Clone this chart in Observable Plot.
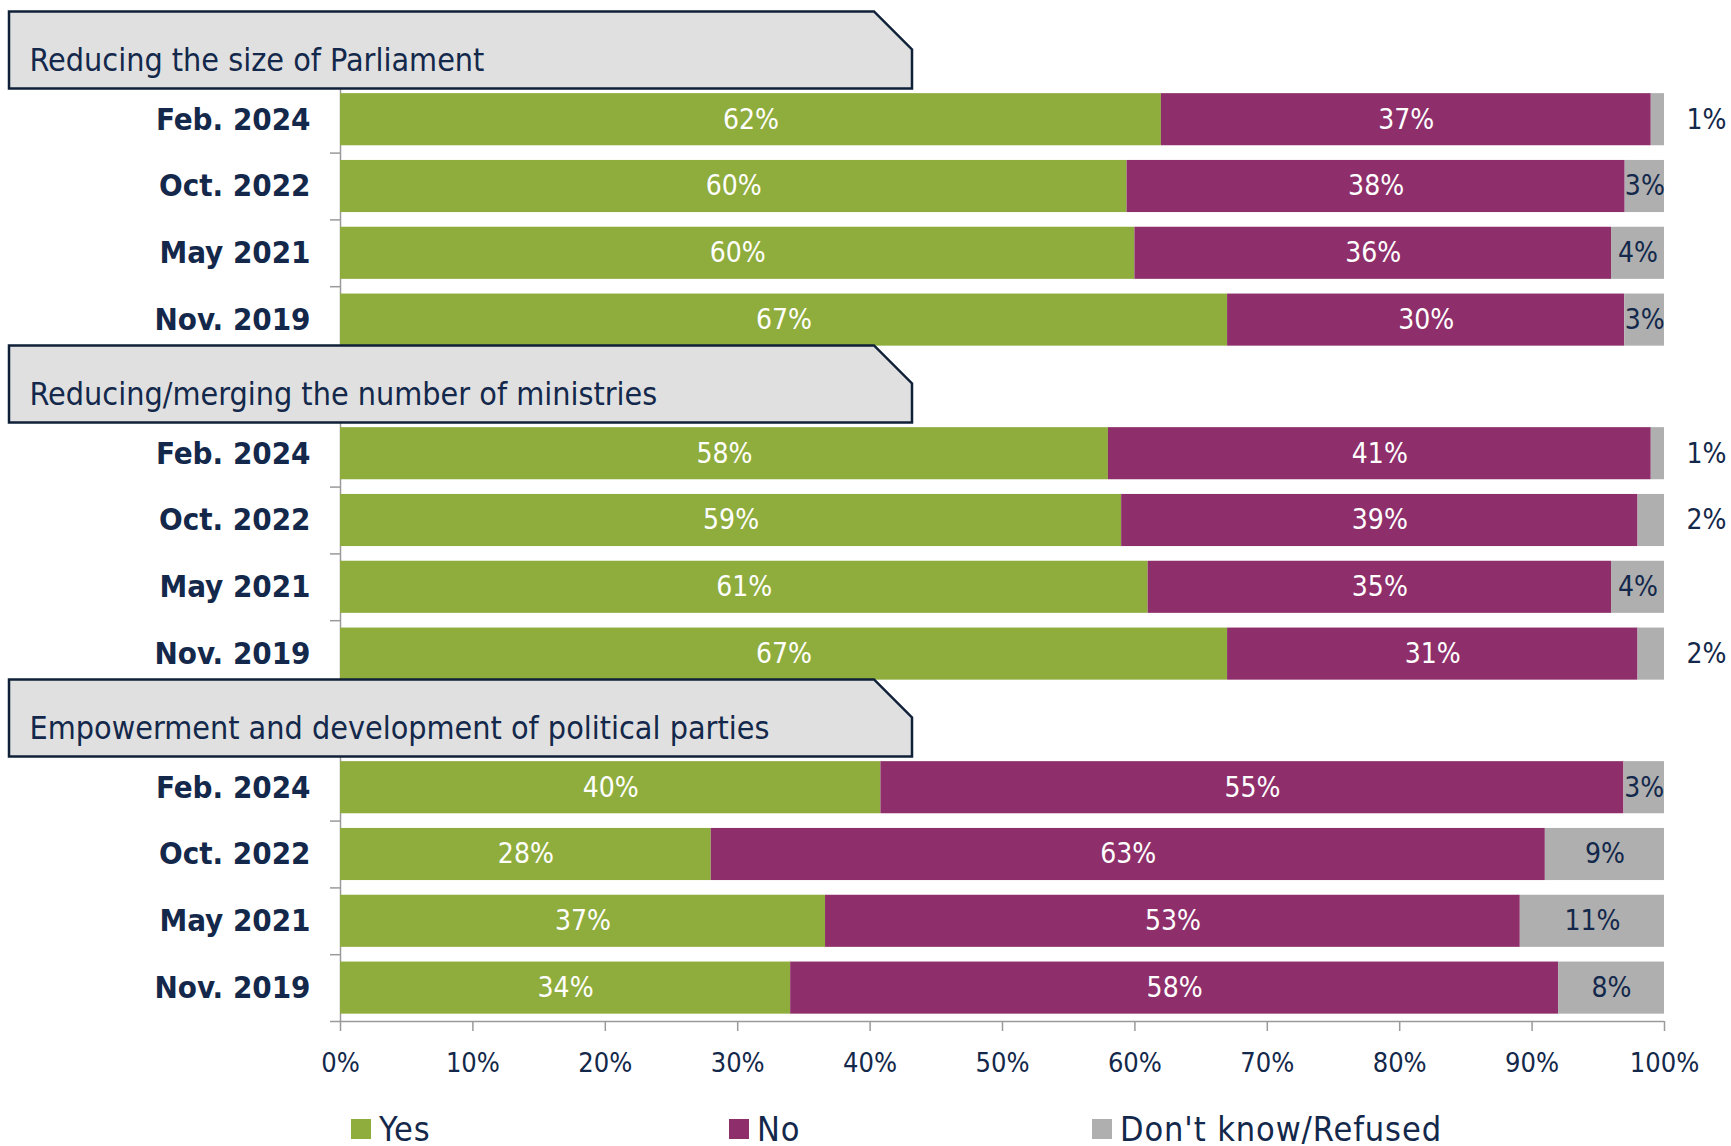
<!DOCTYPE html>
<html>
<head>
<meta charset="utf-8">
<script src="https://cdn.jsdelivr.net/npm/d3@7"></script>
<script src="https://cdn.jsdelivr.net/npm/@observablehq/plot@0.6"></script>
<style>
  html, body { margin: 0; padding: 0; background: #ffffff; }
  body { width: 1731px; height: 1146px; overflow: hidden; font-family: "DejaVu Sans Condensed", "DejaVu Sans", sans-serif; font-stretch: condensed; }
  #chart svg { display: block; }
  .legend { display: flex; align-items: center; height: 34px; line-height: 34px; margin-top: 22px; padding-left: 351px; color: #13284a; font-size: 34px; letter-spacing: 0.9px; }
  .legend .item { display: flex; align-items: center; }
  .legend .sw { width: 20px; height: 20px; margin-right: 8px; }
</style>
</head>
<body>
<div id="chart"></div>
<div class="legend" id="legend"></div>
<script>
// ---- data ----
const groups = [
  "Reducing the size of Parliament",
  "Reducing/merging the number of ministries",
  "Empowerment and development of political parties"
];
const waves = ["Feb. 2024", "Oct. 2022", "May 2021", "Nov. 2019"];
const categories = ["Yes", "No", "Don't know/Refused"];
const yesValues = [[62, 60, 60, 67], [58, 59, 61, 67], [40, 28, 37, 34]];
const noValues  = [[37, 38, 36, 30], [41, 39, 35, 31], [55, 63, 53, 58]];
const dkValues  = [[1, 3, 4, 3], [1, 2, 4, 2], [3, 9, 11, 8]];

// ---- styles ----
const colors = ["#8fad3d", "#8e2f6b", "#afafb0"];
const navy = "#13284a";
const axisGray = "#9a9a9a";
const font = "'DejaVu Sans Condensed', 'DejaVu Sans', sans-serif";

// ---- build tables ----
const slotsPerGroup = waves.length + 1;
const rows = [];
const segments = [];
groups.forEach((g, gi) => {
  waves.forEach((w, wi) => {
    const slot = gi * slotsPerGroup + 1 + wi;
    const vals = [yesValues[gi][wi], noValues[gi][wi], dkValues[gi][wi]];
    const total = d3.sum(vals);
    rows.push({group: g, wave: w, slot});
    let acc = 0;
    vals.forEach((v, ci) => {
      const x1 = acc / total;
      acc += v;
      const x2 = acc / total;
      segments.push({slot, cat: categories[ci], ci, value: v, x1, x2, mid: (x1 + x2) / 2});
    });
  });
});
const headers = groups.map((g, gi) => ({name: g, slot: gi * slotsPerGroup}));
const nSlots = groups.length * slotsPerGroup;
const boundaries = d3.range(-0.5, nSlots, 1);

const insideLabels = segments.filter(d => !(d.ci === 2 && d.value <= 2));
const outsideLabels = segments.filter(d => d.ci === 2 && d.value <= 2);

const halfBar = 0.39;

const chart = Plot.plot({
  width: 1731,
  height: 1090,
  marginLeft: 340,
  marginRight: 67,
  marginTop: 19,
  marginBottom: 69,
  style: {fontFamily: font, background: "transparent"},
  x: {domain: [0, 1]},
  y: {type: "linear", domain: [-0.5, nSlots - 0.5], reverse: true},
  color: {domain: categories, range: colors},
  marks: [
    Plot.ruleX([0], {y1: -0.5, y2: nSlots - 0.5, stroke: axisGray, strokeWidth: 1.5}),
    Plot.axisY({ticks: boundaries, tickSize: 10, tickFormat: () => "", stroke: axisGray, strokeWidth: 1.5, label: null}),
    Plot.ruleY([nSlots - 0.5], {stroke: axisGray, strokeWidth: 1.5}),
    Plot.axisX({ticks: d3.range(0, 1.01, 0.1), tickSize: 10, tickFormat: () => "", stroke: axisGray, strokeWidth: 1.5, label: null}),
    Plot.axisX({ticks: d3.range(0, 1.01, 0.1), tickSize: 0, tickPadding: 31, tickFormat: d3.format(".0%"), fontSize: 27, fill: navy, label: null}),
    Plot.rect(segments, {
      x1: "x1", x2: "x2",
      y1: d => d.slot - halfBar, y2: d => d.slot + halfBar,
      fill: "cat"
    }),
    Plot.text(insideLabels, {
      x: "mid", y: "slot", text: d => d.value + "%",
      fill: d => d.ci === 2 ? navy : "#ffffff",
      fontSize: 28
    }),
    Plot.text(outsideLabels, {
      x: () => 1, y: "slot", text: d => d.value + "%",
      dx: 42, fill: navy, fontSize: 28
    }),
    Plot.text(rows, {
      y: "slot", text: "wave", frameAnchor: "left", textAnchor: "end",
      dx: -30, fontSize: 31, fontWeight: "bold", fill: navy
    }),
    Plot.text(headers, {
      y: "slot", text: "name", frameAnchor: "left", textAnchor: "start",
      dx: -311, dy: 8, fontSize: 32, fill: navy,
      render(index, scales, values, dimensions, context, next) {
        const textGroup = next(index, scales, values, dimensions, context);
        const ns = "http://www.w3.org/2000/svg";
        const wrap = document.createElementNS(ns, "g");
        const left = dimensions.marginLeft - 331;
        const right = dimensions.marginLeft + 572;
        const chamfer = 38;
        for (const i of index) {
          const cy = values.y[i];
          const top = cy - 41, bottom = cy + 36;
          const p = document.createElementNS(ns, "path");
          p.setAttribute("d", `M${left},${top}H${right - chamfer}L${right},${top + chamfer}V${bottom}H${left}Z`);
          p.setAttribute("fill", "#e0e0e0");
          p.setAttribute("stroke", "#0f2038");
          p.setAttribute("stroke-width", "2.5");
          wrap.appendChild(p);
        }
        wrap.appendChild(textGroup);
        return wrap;
      }
    })
  ]
});
document.getElementById("chart").appendChild(chart);

// ---- legend ----
const legend = document.getElementById("legend");
const legendWidths = [378, 363, null];
categories.forEach((c, i) => {
  const item = document.createElement("div");
  item.className = "item";
  if (legendWidths[i]) item.style.width = legendWidths[i] + "px";
  const sw = document.createElement("span");
  sw.className = "sw";
  sw.style.background = colors[i];
  const t = document.createElement("span");
  t.textContent = c;
  item.appendChild(sw);
  item.appendChild(t);
  legend.appendChild(item);
});
</script>
</body>
</html>
